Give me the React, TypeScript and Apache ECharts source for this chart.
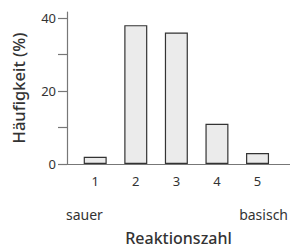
import React, { useEffect, useRef } from "react";
import * as echarts from "echarts";

const categories = [1, 2, 3, 4, 5];
const values = [2, 38, 36, 11, 3];
const yTicks = [0, 10, 20, 30, 40];
const yLabels = [0, 20, 40];
const endLabels = ["sauer", "basisch"];

const FONT = "Noto Sans";
const AXIS = "#777";
const TEXT = "#333";

export default function App() {
  const ref = useRef<HTMLDivElement>(null);
  useEffect(() => {
    document.body.style.margin = "0";
    document.body.style.overflow = "hidden";
    if (!ref.current) return;
    const chart = echarts.init(ref.current, null, { renderer: "svg" });
    chart.setOption({
      animation: false,
      grid: { left: 67, top: 12, right: 0, bottom: 81 },
      xAxis: {
        type: "value",
        min: 0.305,
        max: 5.8,
        name: "Reaktionszahl",
        nameLocation: "middle",
        nameGap: 66,
        nameTextStyle: { fontFamily: FONT, fontSize: 16, fontWeight: 500, color: TEXT, verticalAlign: "top" },
        axisLine: { show: true, lineStyle: { color: AXIS, width: 1.2 } },
        axisTick: { show: false },
        splitLine: { show: false },
        axisLabel: {
          customValues: categories,
          fontFamily: FONT,
          fontSize: 13,
          color: TEXT,
          margin: 10,
        },
      },
      yAxis: {
        type: "value",
        min: 0,
        max: 41.6,
        name: "Häufigkeit (%)",
        nameLocation: "middle",
        nameGap: 40,
        nameRotate: 90,
        nameTextStyle: { fontFamily: FONT, fontSize: 16.5, fontWeight: 500, color: TEXT },
        axisLine: { show: true, lineStyle: { color: AXIS, width: 1.2 } },
        axisTick: { show: true, customValues: yTicks, length: 9, lineStyle: { color: AXIS, width: 1.2 } },
        splitLine: { show: false },
        axisLabel: {
          customValues: yLabels,
          fontFamily: FONT,
          fontSize: 13,
          color: TEXT,
          margin: 11,
        },
      },
      graphic: [
        {
          type: "text",
          left: 66,
          top: 207,
          style: { text: endLabels[0], fontFamily: FONT, fontSize: 14, fill: TEXT },
        },
        {
          type: "text",
          right: 2,
          top: 207,
          style: { text: endLabels[1], fontFamily: FONT, fontSize: 14, fill: TEXT },
        },
      ],
      series: [
        {
          type: "bar",
          barWidth: 23,
          data: categories.map((c, i) => [c, values[i]]),
          itemStyle: { color: "#ebebeb", borderColor: "#333", borderWidth: 1.2 },
        },
      ],
    });
    return () => chart.dispose();
  }, []);
  return <div ref={ref} style={{ width: 290, height: 251 }} />;
}
